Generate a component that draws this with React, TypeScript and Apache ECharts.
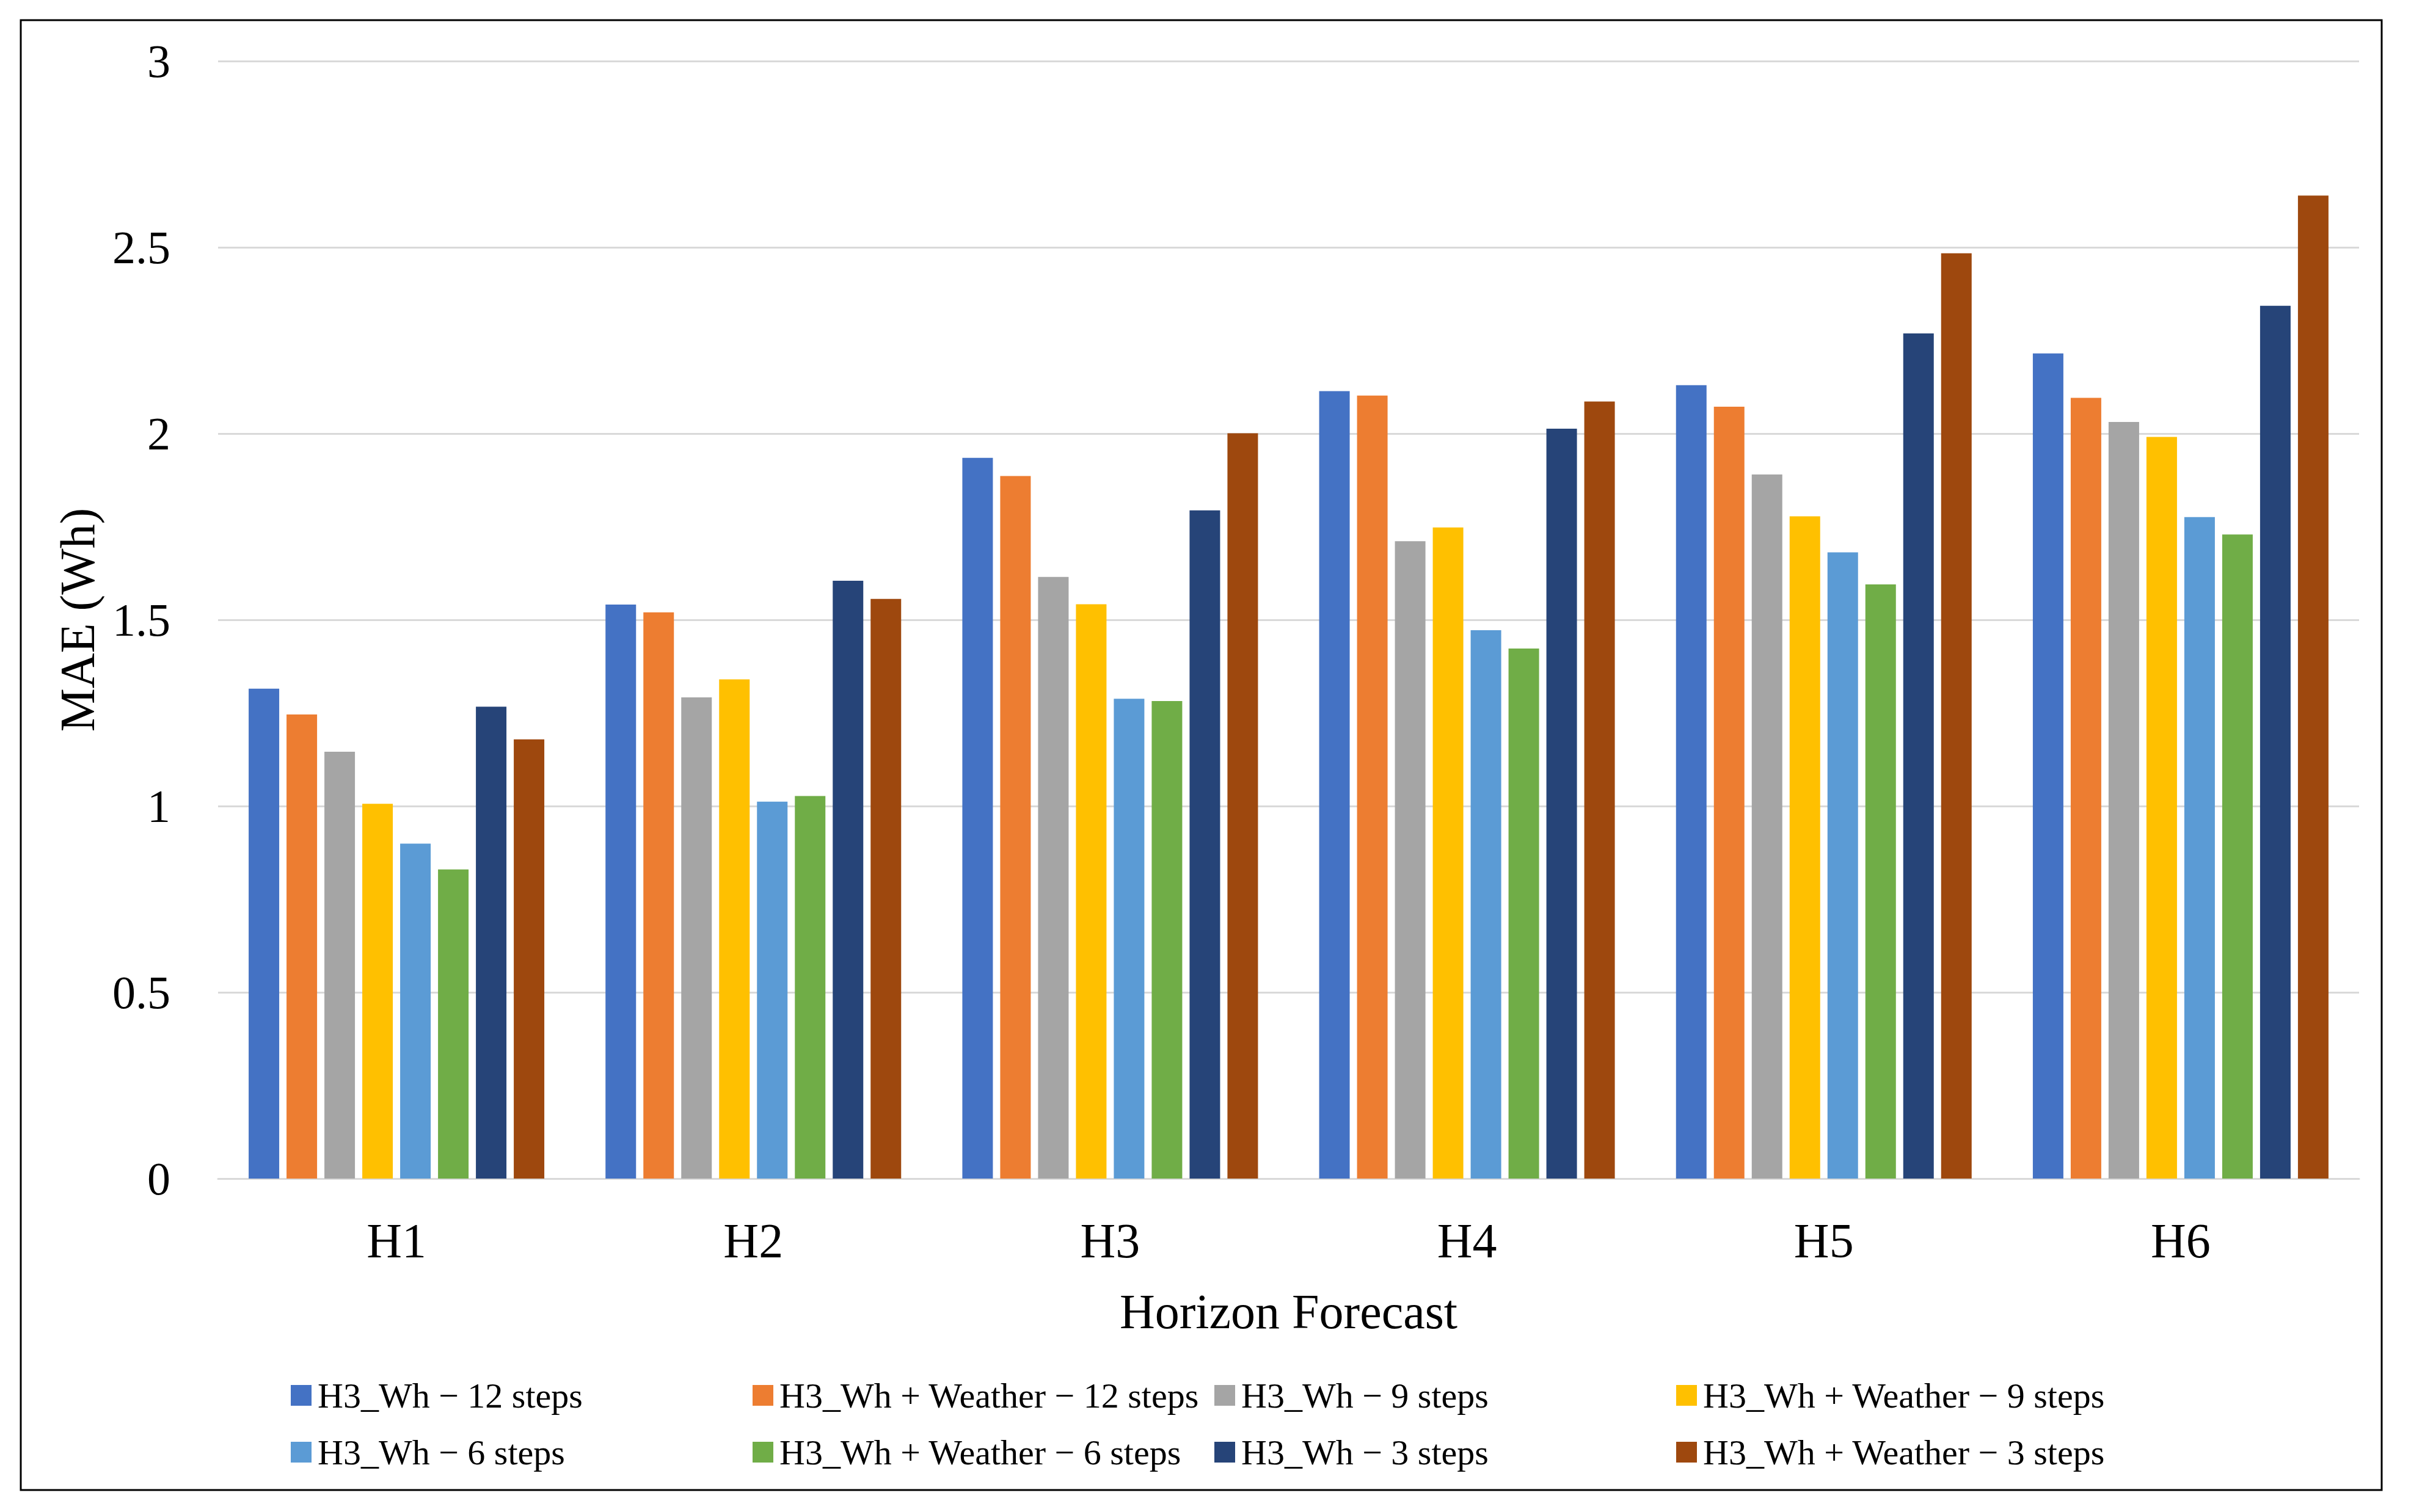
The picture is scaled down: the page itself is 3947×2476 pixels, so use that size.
import React, { useEffect, useRef } from "react";
import * as echarts from "echarts";

const categories = ["H1", "H2", "H3", "H4", "H5", "H6"];
const seriesNames = [
  "H3_Wh \u2212 12 steps",
  "H3_Wh + Weather \u2212 12 steps",
  "H3_Wh \u2212 9 steps",
  "H3_Wh + Weather \u2212 9 steps",
  "H3_Wh \u2212 6 steps",
  "H3_Wh + Weather \u2212 6 steps",
  "H3_Wh \u2212 3 steps",
  "H3_Wh + Weather \u2212 3 steps",
];
const wh12 = [1.315, 1.541, 1.935, 2.114, 2.13, 2.215];
const weather12 = [1.246, 1.52, 1.886, 2.102, 2.072, 2.096];
const wh9 = [1.146, 1.292, 1.615, 1.711, 1.89, 2.031];
const weather9 = [1.006, 1.34, 1.542, 1.748, 1.778, 1.991];
const wh6 = [0.899, 1.012, 1.288, 1.472, 1.681, 1.776];
const weather6 = [0.83, 1.027, 1.282, 1.423, 1.595, 1.729];
const wh3 = [1.267, 1.605, 1.794, 2.013, 2.269, 2.343];
const weather3 = [1.179, 1.556, 2.001, 2.086, 2.484, 2.639];
const seriesValues = [wh12, weather12, wh9, weather9, wh6, weather6, wh3, weather3];
const colors = ["#4472C4", "#ED7D31", "#A5A5A5", "#FFC000", "#5B9BD5", "#70AD47", "#264478", "#9E480E"];
const yTicks = { min: 0, max: 3, interval: 0.5 };

const FONT = "'Liberation Serif', 'Times New Roman', serif";
const W = 3947;
const H = 2476;

export default function App() {
  const ref = useRef<HTMLDivElement>(null);
  useEffect(() => {
    document.body.style.margin = "0";
    const chart = echarts.init(ref.current!, null, { renderer: "svg", width: W, height: H });
    const legendCols = [476, 1232, 1988, 2744];
    const legendRows = [2256, 2349];
    const legends = seriesNames.map((name, i) => ({
      show: true,
      data: [name],
      left: legendCols[i % 4],
      top: legendRows[Math.floor(i / 4)],
      padding: 0,
      itemWidth: 34,
      itemHeight: 34,
      icon: "rect",
      selectedMode: false,
      textStyle: { fontFamily: FONT, fontSize: 58, color: "#000", padding: [0, 0, 0, 5] },
    }));
    chart.setOption({
      animation: false,
      backgroundColor: "#fff",
      color: colors,
      grid: { left: 357, right: W - 3862, top: 100, bottom: H - 1930, containLabel: false },
      legend: legends,
      graphic: [
        {
          type: "rect",
          shape: { x: 34, y: 33, width: 3865, height: 2407 },
          style: { fill: "none", stroke: "#000", lineWidth: 3 },
          silent: true,
        },
      ],
      xAxis: {
        type: "category",
        data: categories,
        axisLine: { show: true, lineStyle: { color: "#d9d9d9", width: 3 } },
        axisTick: { show: false },
        axisLabel: { fontFamily: FONT, fontSize: 80, color: "#000", margin: 62 },
        name: "Horizon Forecast",
        nameLocation: "middle",
        nameGap: 178,
        nameTextStyle: { fontFamily: FONT, fontSize: 80, color: "#000" },
      },
      yAxis: {
        type: "value",
        min: yTicks.min,
        max: yTicks.max,
        interval: yTicks.interval,
        axisLine: { show: false },
        axisTick: { show: false },
        splitLine: { show: true, lineStyle: { color: "#d9d9d9", width: 3 } },
        axisLabel: { fontFamily: FONT, fontSize: 76, color: "#000", margin: 78 },
        name: "MAE (Wh)",
        nameLocation: "middle",
        nameGap: 190,
        nameTextStyle: { fontFamily: FONT, fontSize: 80, color: "#000" },
      },
      series: seriesNames.map((name, i) => ({
        type: "bar",
        name,
        data: seriesValues[i],
        barWidth: 50,
        barGap: "24%",
        itemStyle: { color: colors[i] },
      })),
    });
    return () => chart.dispose();
  }, []);
  return <div ref={ref} style={{ width: W, height: H }} />;
}
